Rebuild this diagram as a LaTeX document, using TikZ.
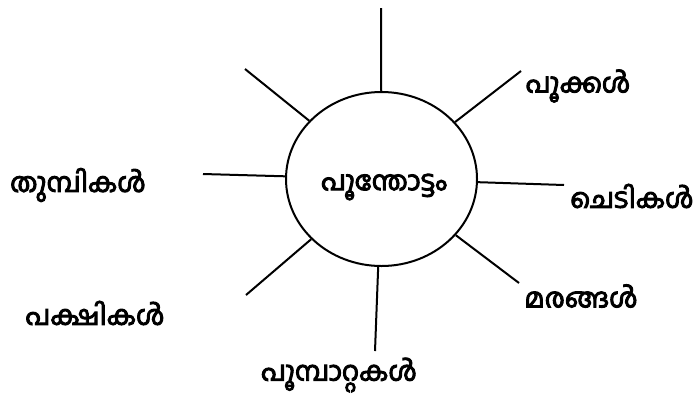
\documentclass[tikz,border=0pt]{standalone}
\usepackage{fontspec}
\newfontfamily\mlfont[Script=Malayalam,FakeBold=3.5]{Hind Kochi}
\usetikzlibrary{shapes.geometric}

\begin{document}
\begin{tikzpicture}[x=1pt,y=-1pt,
  spoke/.style={line width=2pt},
  mlword/.style={font=\mlfont\fontsize{27}{30}\selectfont,inner sep=0pt}]
  \useasboundingbox (0,0) rectangle (700,397);
  % centre
  \node[ellipse,draw,line width=2pt,minimum width=191pt,minimum height=174pt,
        inner sep=0pt] (hub) at (381.5,179) {};
  \node[mlword] (hubword) at (384,187) {പൂന്തോട്ടം};
  % free ends of the spokes
  \coordinate (tTop) at (381,8);
  \coordinate (tUL)  at (245,69);
  \coordinate (tUR)  at (521,71);
  \coordinate (tL)   at (203,174);
  \coordinate (tR)   at (564,185);
  \coordinate (tLL)  at (246,295);
  \coordinate (tLR)  at (519,283);
  \coordinate (tBot) at (375,351);
  \foreach \e in {tTop,tUL,tUR,tL,tR,tLL,tLR,tBot}
    \draw[spoke] (hub) -- (\e);
  % words
  \node[mlword] (wFlowers) at (578,86)  {പൂക്കൾ};
  \node[mlword] (wPlants)  at (632,196) {ചെടികൾ};
  \node[mlword] (wTrees)   at (581,296) {മരങ്ങൾ};
  \node[mlword] (wDragon)  at (78,185)  {തുമ്പികൾ};
  \node[mlword] (wBirds)   at (95,313)  {പക്ഷികൾ};
  \node[mlword] (wButter)  at (339,375) {പൂമ്പാറ്റകൾ};
\end{tikzpicture}
\end{document}
